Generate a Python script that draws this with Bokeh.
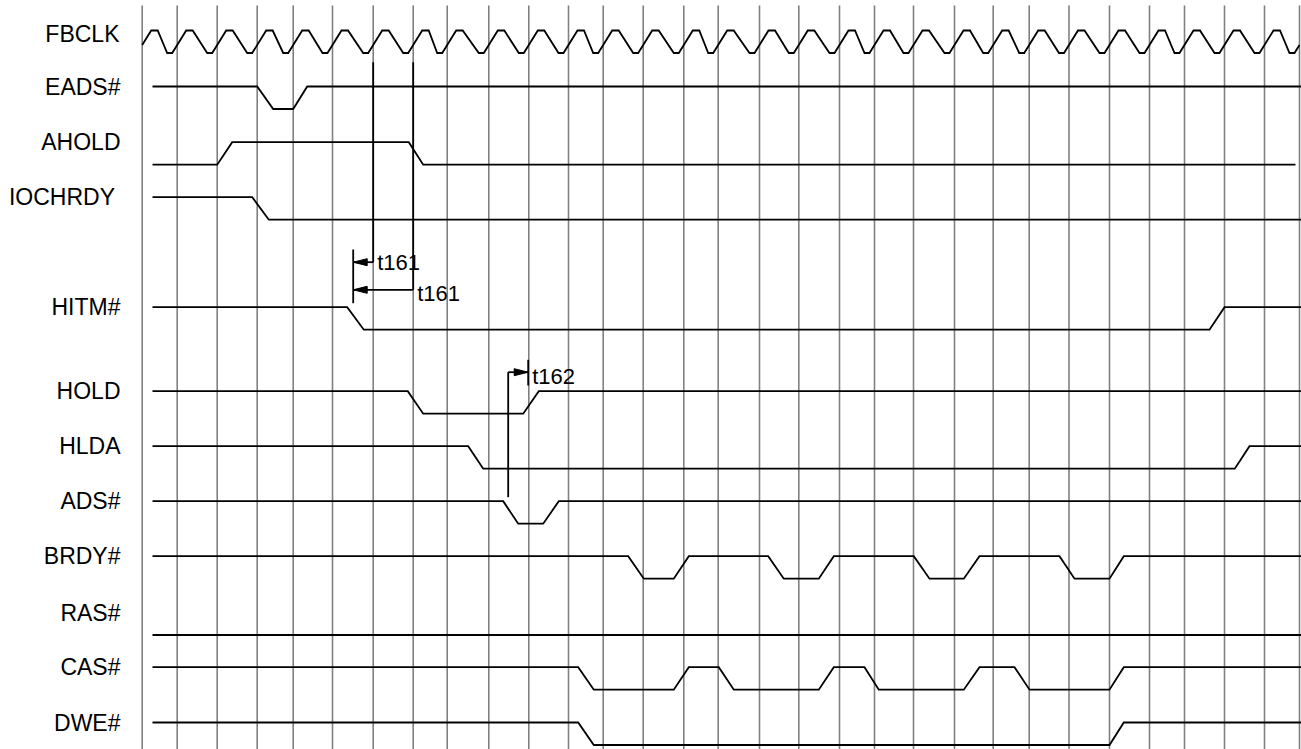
import numpy as np
from bokeh.plotting import figure
from bokeh.models import Range1d
from bokeh.core.properties import value
from bokeh.embed import file_html
from bokeh.resources import INLINE

# ---------------- data (time axis in the diagram's own units) ----------------
# rising edges of FBCLK (one per grid line)
clock_edges = [141.7, 176.7, 216.7, 256.7, 292.7, 332.0, 372.7, 412.7, 446.7,
               488.3, 528.3, 568.0, 602.7, 642.7, 683.3, 717.7, 759.0, 798.3,
               839.0, 874.0, 913.0, 954.0, 992.7, 1028.7, 1068.5, 1109.0,
               1149.0, 1184.0, 1224.0, 1264.0, 1299.0]

signals = ["EADS#", "AHOLD", "IOCHRDY", "HITM#", "HOLD", "HLDA", "ADS#",
           "BRDY#", "RAS#", "CAS#", "DWE#"]
initial_high = [True, False, True, True, True, True, True, True, False, True, True]
wave_start = [152] * 11
wave_end = [1310, 1295, 1310, 1310, 1310, 1310, 1310, 1310, 1310, 1310, 1310]

# (start, end) of each edge, alternating level from the initial one
eads_edges = [(256.7, 272.7), (292.7, 306.7)]
ahold_edges = [(216.7, 231.7), (408.3, 422.7)]
iochrdy_edges = [(251.7, 268.3)]
hitm_edges = [(346.7, 363.3), (1209.0, 1224.0)]
hold_edges = [(407.3, 422.7), (522.7, 538.3)]
hlda_edges = [(467.7, 482.7), (1234.3, 1249.0)]
ads_edges = [(502.7, 517.7), (542.7, 558.3)]
brdy_edges = [(627.7, 643.3), (673.3, 688.3), (767.7, 783.3), (818.3, 833.3),
              (913.3, 929.0), (963.3, 979.0), (1059.0, 1074.0), (1109.0, 1123.3)]
ras_edges = []
cas_edges = [(577.7, 593.3), (673.3, 688.3), (718.3, 733.3), (818.3, 833.3),
             (864.0, 878.3), (963.3, 979.0), (1014.0, 1029.0), (1109.0, 1123.3)]
dwe_edges = [(577.7, 593.3), (1109.0, 1123.3)]
edges = [eads_edges, ahold_edges, iochrdy_edges, hitm_edges, hold_edges,
         hlda_edges, ads_edges, brdy_edges, ras_edges, cas_edges, dwe_edges]

# timing measurements
meas_labels = ["t161", "t161", "t162"]
meas_from = [372.7, 412.7, 507.7]
meas_to = [352.7, 352.7, 527.7]

# ---------------- layout (screen rows) ----------------
clock_row = 30.0
row_y = [86.0, 141.7, 196.7, 306.7, 390.7, 445.7, 500.7, 555.7, 612.0, 666.7, 722.0]
swing = 22.5
label_x = [120.0] * 11
label_x[2] = 114.5
clock_label_x = 119.0
clock_label_y = 33.0

meas_y = [261.7, 289.3, 371.7]
meas_lead_top = [61.7, 61.7, 496.7]
meas_text_y = [261.5, 292.5, 375.5]
bar_x = [352.7, 527.7]
bar_y0 = [249.0, 359.3]
bar_y1 = [302.7, 385.0]

BLACK = "#000000"
GRID = "#808080"
FONT = value("Liberation Sans")

p = figure(width=1301, height=749, output_backend="svg", toolbar_location=None,
           x_range=Range1d(0, 1301), y_range=Range1d(749, 0),
           x_axis_location=None, y_axis_location=None, min_border=0)
p.grid.visible = False
p.outline_line_color = None
p.background_fill_color = "white"
p.border_fill_color = "white"

# grid lines
p.segment(x0=clock_edges, y0=[5] * len(clock_edges), x1=clock_edges,
          y1=[800] * len(clock_edges), line_color=GRID, line_width=1.6)

# clock waveform
c_hi, c_lo = clock_row, clock_row + swing
cx, cy = [], []
for i in range(len(clock_edges) - 1):
    g, gn = clock_edges[i], clock_edges[i + 1]
    cx += [g - 5, g + 9, g + 15.5, gn - 10]
    cy += [c_lo, c_hi, c_hi, c_lo]
cx.append(clock_edges[-1] - 5)
cy.append(c_lo)
cx.append(clock_edges[-1] + 9)
cy.append(c_hi)
cx = np.array(cx)
cy = np.array(cy)
xs_c = np.concatenate([[clock_edges[0]], cx[(cx > clock_edges[0]) & (cx < clock_edges[-1])], [clock_edges[-1]]])
ys_c = np.interp(xs_c, cx, cy)

# signal waveforms
wx, wy = [list(xs_c)], [list(ys_c)]
for k in range(len(signals)):
    hi = row_y[k]
    lo = hi + swing
    lvl = initial_high[k]
    xs = [wave_start[k]]
    ys = [hi if lvl else lo]
    for a, b in edges[k]:
        xs += [a, b]
        ys += [ys[-1], lo if lvl else hi]
        lvl = not lvl
    xs.append(wave_end[k])
    ys.append(ys[-1])
    wx.append(xs)
    wy.append(ys)
p.multi_line(xs=wx, ys=wy, line_color=BLACK, line_width=1.8, line_join="miter")

# labels
p.text(x=[clock_label_x] + label_x, y=[clock_label_y] + row_y, text=["FBCLK"] + signals,
       text_align="right", text_baseline="middle", text_font=FONT,
       text_font_size="23px", text_color=BLACK)

# measurement annotations
p.segment(x0=meas_from, y0=meas_lead_top, x1=meas_from, y1=meas_y,
          line_color=BLACK, line_width=1.8)
p.segment(x0=meas_from, y0=meas_y, x1=meas_to, y1=meas_y,
          line_color=BLACK, line_width=1.8)
p.segment(x0=bar_x, y0=bar_y0, x1=bar_x, y1=bar_y1, line_color=BLACK, line_width=1.8)
hx, hy = [], []
for f, t, y in zip(meas_from, meas_to, meas_y):
    d = 1 if f > t else -1
    hx.append([t, t + d * 14, t + d * 14])
    hy.append([y, y - 3.5, y + 3.5])
p.patches(xs=hx, ys=hy, fill_color=BLACK, line_color=BLACK, line_width=1)
p.text(x=[max(f, t) + 4 for f, t in zip(meas_from, meas_to)], y=meas_text_y,
       text=meas_labels, text_align="left", text_baseline="middle",
       text_font=FONT, text_font_size="22px", text_color=BLACK)

open("out.html", "w").write(file_html(p, INLINE))
